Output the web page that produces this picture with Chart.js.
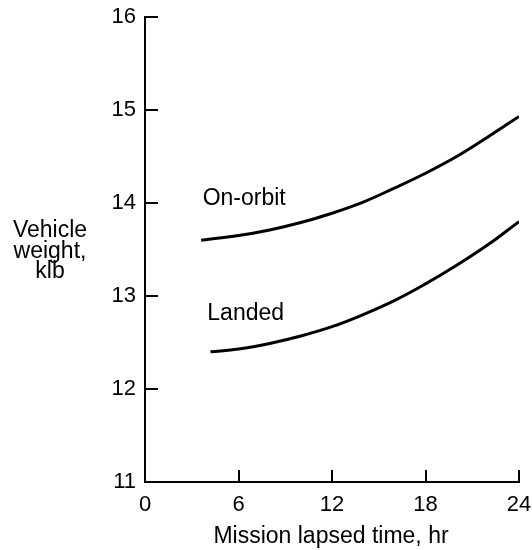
<!DOCTYPE html>
<html>
<head>
<meta charset="utf-8">
<title>Vehicle weight vs mission lapsed time</title>
<script src="https://cdn.jsdelivr.net/npm/chart.js@4/dist/chart.umd.min.js"></script>
<style>
  html, body { margin: 0; padding: 0; background: #fff; }
  #wrap { width: 532px; height: 550px; position: relative; }
</style>
</head>
<body>
<div id="wrap"><canvas id="weightChart"></canvas></div>
<script>
const FONT = '"Liberation Sans", Arial, Helvetica, sans-serif';

// mission lapsed time, hr
const onOrbitHours = [3.6, 6, 8, 10, 12, 14, 16, 18, 20, 22, 24];
const landedHours = [4.2, 6, 8, 10, 12, 14, 16, 18, 20, 22, 24];

// vehicle weight, klb
const onOrbitWeight = [13.60, 13.65, 13.71, 13.79, 13.89, 14.01, 14.16, 14.32, 14.50, 14.71, 14.93];
const landedWeight = [12.40, 12.43, 12.49, 12.57, 12.67, 12.80, 12.95, 13.13, 13.33, 13.55, 13.80];

const xTicks = [0, 6, 12, 18, 24];
const yTicks = [11, 12, 13, 14, 15, 16];

// curve captions: [text, hour, weight at baseline]
const curveLabels = [
    ["On-orbit", 3.7, 13.98],
    ["Landed", 4.0, 12.74],
];

const yTitle = ["Vehicle", "weight,", "klb"];
const xTitle = "Mission lapsed time, hr";

function toPoints(xs, ys) {
    return xs.map((x, i) => ({ x: x, y: ys[i] }));
}

// inward tick marks, curve captions and axis titles
const annotations = {
    id: 'annotations',
    afterDraw(chart) {
        const ctx = chart.ctx;
        const xs = chart.scales.x;
        const ys = chart.scales.y;
        const area = chart.chartArea;
        ctx.save();
        ctx.strokeStyle = '#000';
        ctx.lineWidth = 2;
        ctx.beginPath();
        xTicks.forEach(v => {
            if (v === 0) return;
            const px = Math.round(xs.getPixelForValue(v));
            ctx.moveTo(px, area.bottom);
            ctx.lineTo(px, area.bottom - 12);
        });
        yTicks.forEach(v => {
            if (v === 11) return;
            const py = Math.round(ys.getPixelForValue(v));
            ctx.moveTo(area.left, py);
            ctx.lineTo(area.left + 13, py);
        });
        ctx.stroke();

        ctx.fillStyle = '#000';
        ctx.font = '23px ' + FONT;
        ctx.textBaseline = 'alphabetic';
        ctx.textAlign = 'left';
        curveLabels.forEach(([text, hx, wy]) => {
            ctx.fillText(text, xs.getPixelForValue(hx), ys.getPixelForValue(wy));
        });

        ctx.textAlign = 'center';
        yTitle.forEach((line, i) => {
            ctx.fillText(line, 50, 237 + i * 20.5);
        });
        ctx.fillText(xTitle, 331, 543);
        ctx.restore();
    }
};

new Chart(document.getElementById('weightChart'), {
    type: 'line',
    data: {
        datasets: [
            {
                label: 'On-orbit',
                data: toPoints(onOrbitHours, onOrbitWeight),
                borderColor: '#000',
                borderWidth: 3,
                pointRadius: 0,
                tension: 0.4,
                fill: false,
            },
            {
                label: 'Landed',
                data: toPoints(landedHours, landedWeight),
                borderColor: '#000',
                borderWidth: 3,
                pointRadius: 0,
                tension: 0.4,
                fill: false,
            },
        ],
    },
    options: {
        responsive: true,
        maintainAspectRatio: false,
        animation: false,
        layout: { padding: { left: 0, right: 13, top: 17, bottom: 0 } },
        plugins: {
            legend: { display: false },
            tooltip: { enabled: false },
        },
        scales: {
            x: {
                type: 'linear',
                min: 0,
                max: 24,
                afterFit(scale) {
                    scale.height = 68;
                    scale.paddingLeft = 0;
                    scale.paddingRight = 0;
                },
                afterBuildTicks(scale) { scale.ticks = xTicks.map(v => ({ value: v })); },
                grid: { display: false, drawTicks: false },
                border: { display: true, color: '#000', width: 2 },
                ticks: {
                    color: '#000',
                    padding: 10,
                    maxRotation: 0,
                    font: { family: FONT, size: 22 },
                },
            },
            y: {
                type: 'linear',
                min: 11,
                max: 16,
                afterFit(scale) {
                    scale.width = 145;
                    scale.paddingTop = 0;
                    scale.paddingBottom = 0;
                },
                afterBuildTicks(scale) { scale.ticks = yTicks.map(v => ({ value: v })); },
                grid: { display: false, drawTicks: false },
                border: { display: true, color: '#000', width: 2 },
                ticks: {
                    color: '#000',
                    padding: 9,
                    font: { family: FONT, size: 22 },
                },
            },
        },
    },
    plugins: [annotations],
});
</script>
</body>
</html>
